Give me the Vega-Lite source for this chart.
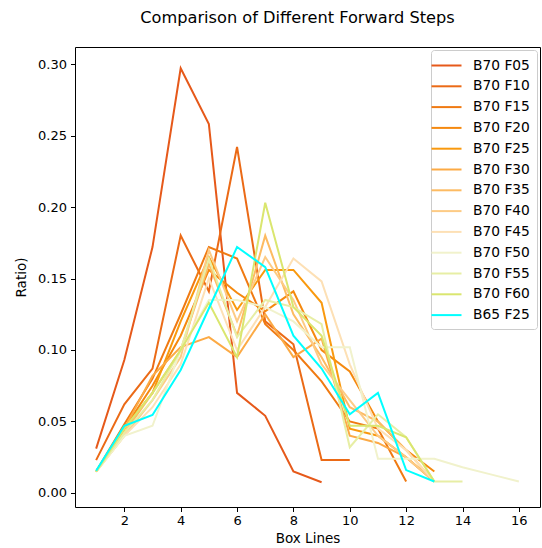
{
  "$schema": "https://vega.github.io/schema/vega-lite/v6.json",
  "autosize": "none",
  "width": 465,
  "height": 460,
  "padding": {"left": 75, "top": 47, "right": 2, "bottom": 41},
  "background": "white",
  "title": {"text": "Comparison of Different Forward Steps", "fontSize": 16.2, "font": "DejaVu Sans", "fontWeight": "normal", "color": "#000", "offset": 21, "dx": -10},
  "config": {
    "font": "DejaVu Sans",
    "view": {"stroke": "#000", "strokeWidth": 1},
    "axis": {"grid": false, "domain": false, "tickColor": "#000", "tickSize": 4.5, "labelColor": "#000", "labelFontSize": 13, "titleFontSize": 13.5, "titleFontWeight": "normal", "titleColor": "#000", "labelFont": "DejaVu Sans", "titleFont": "DejaVu Sans"}
  },
  "datasets": {
    "d": [
      {"s":"B70 F05","x":1,"y":0.031},{"s":"B70 F05","x":2,"y":0.093},{"s":"B70 F05","x":3,"y":0.172},{"s":"B70 F05","x":4,"y":0.297},{"s":"B70 F05","x":5,"y":0.258},{"s":"B70 F05","x":6,"y":0.070},{"s":"B70 F05","x":7,"y":0.054},{"s":"B70 F05","x":8,"y":0.015},{"s":"B70 F05","x":9,"y":0.0075},
      {"s":"B70 F10","x":1,"y":0.023},{"s":"B70 F10","x":2,"y":0.062},{"s":"B70 F10","x":3,"y":0.087},{"s":"B70 F10","x":4,"y":0.180},{"s":"B70 F10","x":5,"y":0.141},{"s":"B70 F10","x":6,"y":0.242},{"s":"B70 F10","x":7,"y":0.120},{"s":"B70 F10","x":8,"y":0.104},{"s":"B70 F10","x":9,"y":0.023},{"s":"B70 F10","x":10,"y":0.023},
      {"s":"B70 F15","x":1,"y":0.015},{"s":"B70 F15","x":2,"y":0.048},{"s":"B70 F15","x":3,"y":0.080},{"s":"B70 F15","x":4,"y":0.125},{"s":"B70 F15","x":5,"y":0.172},{"s":"B70 F15","x":6,"y":0.164},{"s":"B70 F15","x":7,"y":0.118},{"s":"B70 F15","x":8,"y":0.100},{"s":"B70 F15","x":9,"y":0.078},{"s":"B70 F15","x":10,"y":0.050},{"s":"B70 F15","x":11,"y":0.045},{"s":"B70 F15","x":12,"y":0.008},
      {"s":"B70 F20","x":1,"y":0.015},{"s":"B70 F20","x":2,"y":0.045},{"s":"B70 F20","x":3,"y":0.075},{"s":"B70 F20","x":4,"y":0.110},{"s":"B70 F20","x":5,"y":0.156},{"s":"B70 F20","x":6,"y":0.140},{"s":"B70 F20","x":7,"y":0.127},{"s":"B70 F20","x":8,"y":0.141},{"s":"B70 F20","x":9,"y":0.100},{"s":"B70 F20","x":10,"y":0.085},{"s":"B70 F20","x":11,"y":0.050},{"s":"B70 F20","x":12,"y":0.030},{"s":"B70 F20","x":13,"y":0.015},
      {"s":"B70 F25","x":1,"y":0.015},{"s":"B70 F25","x":2,"y":0.045},{"s":"B70 F25","x":3,"y":0.070},{"s":"B70 F25","x":4,"y":0.120},{"s":"B70 F25","x":5,"y":0.165},{"s":"B70 F25","x":6,"y":0.128},{"s":"B70 F25","x":7,"y":0.156},{"s":"B70 F25","x":8,"y":0.156},{"s":"B70 F25","x":9,"y":0.133},{"s":"B70 F25","x":10,"y":0.045},{"s":"B70 F25","x":11,"y":0.040},{"s":"B70 F25","x":12,"y":0.025},{"s":"B70 F25","x":13,"y":0.008},
      {"s":"B70 F30","x":1,"y":0.015},{"s":"B70 F30","x":2,"y":0.045},{"s":"B70 F30","x":3,"y":0.082},{"s":"B70 F30","x":4,"y":0.102},{"s":"B70 F30","x":5,"y":0.109},{"s":"B70 F30","x":6,"y":0.095},{"s":"B70 F30","x":7,"y":0.125},{"s":"B70 F30","x":8,"y":0.095},{"s":"B70 F30","x":9,"y":0.108},{"s":"B70 F30","x":10,"y":0.040},{"s":"B70 F30","x":11,"y":0.035},{"s":"B70 F30","x":12,"y":0.025},{"s":"B70 F30","x":13,"y":0.008},
      {"s":"B70 F35","x":1,"y":0.015},{"s":"B70 F35","x":2,"y":0.042},{"s":"B70 F35","x":3,"y":0.070},{"s":"B70 F35","x":4,"y":0.100},{"s":"B70 F35","x":5,"y":0.160},{"s":"B70 F35","x":6,"y":0.110},{"s":"B70 F35","x":7,"y":0.180},{"s":"B70 F35","x":8,"y":0.125},{"s":"B70 F35","x":9,"y":0.095},{"s":"B70 F35","x":10,"y":0.060},{"s":"B70 F35","x":11,"y":0.050},{"s":"B70 F35","x":12,"y":0.030},{"s":"B70 F35","x":13,"y":0.008},
      {"s":"B70 F40","x":1,"y":0.015},{"s":"B70 F40","x":2,"y":0.040},{"s":"B70 F40","x":3,"y":0.065},{"s":"B70 F40","x":4,"y":0.095},{"s":"B70 F40","x":5,"y":0.170},{"s":"B70 F40","x":6,"y":0.120},{"s":"B70 F40","x":7,"y":0.165},{"s":"B70 F40","x":8,"y":0.135},{"s":"B70 F40","x":9,"y":0.090},{"s":"B70 F40","x":10,"y":0.065},{"s":"B70 F40","x":11,"y":0.040},{"s":"B70 F40","x":12,"y":0.025},{"s":"B70 F40","x":13,"y":0.008},
      {"s":"B70 F45","x":1,"y":0.015},{"s":"B70 F45","x":2,"y":0.040},{"s":"B70 F45","x":3,"y":0.060},{"s":"B70 F45","x":4,"y":0.090},{"s":"B70 F45","x":5,"y":0.150},{"s":"B70 F45","x":6,"y":0.100},{"s":"B70 F45","x":7,"y":0.130},{"s":"B70 F45","x":8,"y":0.164},{"s":"B70 F45","x":9,"y":0.148},{"s":"B70 F45","x":10,"y":0.090},{"s":"B70 F45","x":11,"y":0.045},{"s":"B70 F45","x":12,"y":0.030},{"s":"B70 F45","x":13,"y":0.008},
      {"s":"B70 F50","x":1,"y":0.015},{"s":"B70 F50","x":2,"y":0.040},{"s":"B70 F50","x":3,"y":0.047},{"s":"B70 F50","x":4,"y":0.100},{"s":"B70 F50","x":5,"y":0.135},{"s":"B70 F50","x":6,"y":0.135},{"s":"B70 F50","x":7,"y":0.130},{"s":"B70 F50","x":8,"y":0.120},{"s":"B70 F50","x":9,"y":0.102},{"s":"B70 F50","x":10,"y":0.102},{"s":"B70 F50","x":11,"y":0.024},{"s":"B70 F50","x":12,"y":0.024},{"s":"B70 F50","x":13,"y":0.024},{"s":"B70 F50","x":14,"y":0.018},{"s":"B70 F50","x":15,"y":0.013},{"s":"B70 F50","x":16,"y":0.008},
      {"s":"B70 F55","x":1,"y":0.015},{"s":"B70 F55","x":2,"y":0.042},{"s":"B70 F55","x":3,"y":0.065},{"s":"B70 F55","x":4,"y":0.100},{"s":"B70 F55","x":5,"y":0.164},{"s":"B70 F55","x":6,"y":0.109},{"s":"B70 F55","x":7,"y":0.135},{"s":"B70 F55","x":8,"y":0.130},{"s":"B70 F55","x":9,"y":0.118},{"s":"B70 F55","x":10,"y":0.032},{"s":"B70 F55","x":11,"y":0.055},{"s":"B70 F55","x":12,"y":0.039},{"s":"B70 F55","x":13,"y":0.008},{"s":"B70 F55","x":14,"y":0.008},
      {"s":"B70 F60","x":1,"y":0.015},{"s":"B70 F60","x":2,"y":0.045},{"s":"B70 F60","x":3,"y":0.070},{"s":"B70 F60","x":4,"y":0.100},{"s":"B70 F60","x":5,"y":0.133},{"s":"B70 F60","x":6,"y":0.095},{"s":"B70 F60","x":7,"y":0.203},{"s":"B70 F60","x":8,"y":0.130},{"s":"B70 F60","x":9,"y":0.110},{"s":"B70 F60","x":10,"y":0.047},{"s":"B70 F60","x":11,"y":0.047},{"s":"B70 F60","x":12,"y":0.039},{"s":"B70 F60","x":13,"y":0.008},
      {"s":"B65 F25","x":1,"y":0.0156},{"s":"B65 F25","x":2,"y":0.047},{"s":"B65 F25","x":3,"y":0.0545},{"s":"B65 F25","x":4,"y":0.086},{"s":"B65 F25","x":5,"y":0.129},{"s":"B65 F25","x":6,"y":0.172},{"s":"B65 F25","x":7,"y":0.158},{"s":"B65 F25","x":8,"y":0.110},{"s":"B65 F25","x":9,"y":0.087},{"s":"B65 F25","x":10,"y":0.055},{"s":"B65 F25","x":11,"y":0.070},{"s":"B65 F25","x":12,"y":0.016},{"s":"B65 F25","x":13,"y":0.008}
    ]
  },
  "data": {"name": "d"},
  "mark": {"type": "line", "strokeWidth": 2, "clip": true},
  "encoding": {
    "x": {"field": "x", "type": "quantitative", "scale": {"domain": [0.25, 16.75], "nice": false, "zero": false}, "axis": {"values": [2,4,6,8,10,12,14,16], "title": "Box Lines", "labelPadding": 3, "titlePadding": 4}},
    "y": {"field": "y", "type": "quantitative", "scale": {"domain": [-0.0098, 0.3119], "nice": false, "zero": false}, "axis": {"values": [0, 0.05, 0.1, 0.15, 0.2, 0.25, 0.3], "format": ".2f", "title": "Ratio)", "labelPadding": 4, "titlePadding": 9}},
    "color": {"field": "s", "type": "nominal", "scale": {"domain": ["B70 F05","B70 F10","B70 F15","B70 F20","B70 F25","B70 F30","B70 F35","B70 F40","B70 F45","B70 F50","B70 F55","B70 F60","B65 F25"], "range": ["#e6591a","#eb6a16","#f07a12","#f5890f","#f9990e","#fcaa45","#fdbb62","#fdcb85","#fde0b5","#f1f2cc","#e7eea5","#dae66f","#00ffff"]},
      "legend": {"title": null, "orient": "top-right", "offset": 3, "symbolType": "M-2,0H2", "symbolSize": 225, "symbolStrokeWidth": 2, "symbolFillColor": "transparent", "labelFontSize": 13.8, "labelColor": "#000", "labelFont": "DejaVu Sans", "rowPadding": 4.8, "padding": 7, "strokeColor": "#cccccc", "fillColor": "white", "cornerRadius": 3, "labelOffset": 18}}
  }
}
